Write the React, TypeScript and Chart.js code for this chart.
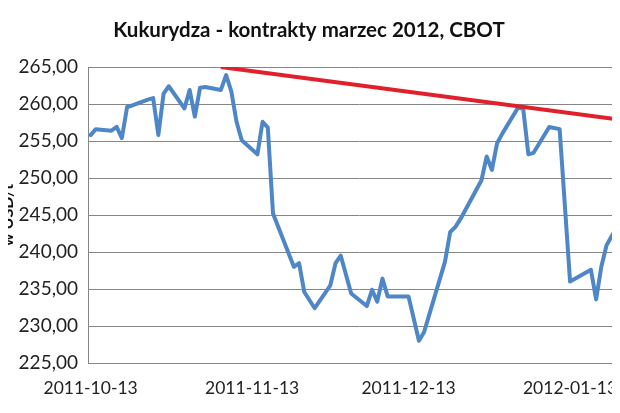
import React, { useEffect, useRef } from "react";
import { Chart, registerables } from "chart.js";

Chart.register(...registerables);

const TITLE = "Kukurydza - kontrakty marzec 2012, CBOT";
const Y_AXIS_TITLE = "w USD/t";
const START_DATE = "2011-10-13";
const X_TICK_LABELS = ["2011-10-13", "2011-11-13", "2011-12-13", "2012-01-13"];

// days since 2011-10-13
const PRICE_DAYS = [
  0, 1, 4, 5, 6, 7, 8, 11, 12, 13, 14, 15, 18, 19, 20, 21, 22, 25, 26, 27, 28, 29,
  32, 33, 34, 35, 39, 40, 41, 43, 46, 47, 48, 50, 53, 54, 55, 56, 57, 60, 61, 63, 64,
  68, 69, 70, 71, 75, 76, 77, 78, 79, 82, 83, 84, 85, 88, 90, 92, 96, 97, 98, 99, 101, 102,
];
const PRICES = [
  255.8, 256.6, 256.4, 256.9, 255.4, 259.6, 259.8, 260.6, 260.8, 255.8, 261.4, 262.4,
  259.4, 261.9, 258.3, 262.2, 262.3, 261.9, 263.9, 261.7, 257.6, 255.1,
  253.2, 257.6, 256.8, 245.2, 238.0, 238.5, 234.6, 232.4, 235.5, 238.5, 239.5, 234.4,
  232.7, 234.9, 233.3, 236.4, 234.0, 234.0, 234.0, 228.0, 229.2,
  238.7, 242.7, 243.4, 244.5, 249.7, 252.9, 251.1, 254.7, 256.0, 259.5, 259.4, 253.2,
  253.4, 256.9, 256.6, 236.0, 237.6, 233.6, 238.0, 240.9, 243.4, 244.2,
];
const TREND_DAYS = [25, 103.5];
const TREND_PRICES = [265.0, 257.7];

const Y_MIN = 225;
const Y_MAX = 265;
const Y_STEP = 5;
const X_MIN = -0.5;
const X_MAX = 103.5;

const DAY_MS = 86400000;
const dayOffset = (iso: string) =>
  Math.round((Date.parse(iso) - Date.parse(START_DATE)) / DAY_MS);
const X_TICK_DAYS = X_TICK_LABELS.map(dayOffset);

const OFFSET = 30; // canvas starts 30px left of the visible page
const CANVAS_W = 690;
const CANVAS_H = 413;

export default function App() {
  const ref = useRef<HTMLCanvasElement>(null);

  useEffect(() => {
    const canvas = ref.current;
    if (!canvas) return;

    const framePlugin = {
      id: "frame",
      beforeDraw(chart: any) {
        const { ctx, width, height } = chart;
        ctx.save();
        ctx.fillStyle = "#ffffff";
        ctx.fillRect(0, 0, width, height);
        ctx.strokeStyle = "#8c8c8c";
        ctx.lineWidth = 1;
        ctx.strokeRect(0.5, 2.5, width + 20, 408);
        ctx.restore();
      },
    };

    const titlePlugin = {
      id: "chartTitle",
      afterDraw(chart: any) {
        const { ctx } = chart;
        ctx.save();
        ctx.font = "bold 20.5px Lato";
        ctx.fillStyle = "#111111";
        ctx.textAlign = "center";
        ctx.textBaseline = "middle";
        ctx.fillText(TITLE, 309 + OFFSET, 30);
        ctx.restore();
      },
    };

    const chart = new Chart(canvas, {
      type: "line",
      data: {
        datasets: [
          {
            label: "trend",
            data: TREND_DAYS.map((d, i) => ({ x: d, y: TREND_PRICES[i] })),
            borderColor: "#E0202A",
            borderWidth: 4,
            pointRadius: 0,
            order: 0,
            borderCapStyle: "butt",
          },
          {
            label: "cena",
            data: PRICE_DAYS.map((d, i) => ({ x: d, y: PRICES[i] })),
            borderColor: "#4F86C8",
            borderWidth: 4,
            pointRadius: 0,
            tension: 0,
            borderJoinStyle: "round",
            borderCapStyle: "round",
            order: 1,
          },
        ],
      },
      options: {
        animation: false,
        responsive: false,
        devicePixelRatio: 1,
        layout: { padding: { left: 0, right: 30, top: 67, bottom: 0 } },
        plugins: {
          legend: { display: false },
          title: { display: false },
          tooltip: { enabled: false },
        },
        scales: {
          x: {
            type: "linear",
            min: X_MIN,
            max: X_MAX,
            afterBuildTicks: (scale: any) => {
              scale.ticks = X_TICK_DAYS.map((value) => ({ value }));
            },
            afterFit: (scale: any) => {
              scale.height = 50;
            },
            grid: { display: false },
            border: { display: true, color: "#868686", width: 1 },
            ticks: {
              autoSkip: false,
              maxRotation: 0,
              padding: 7,
              color: "#222222",
              font: { family: "Lato", size: 17.5 },
              callback: (v: any) => {
                const i = X_TICK_DAYS.indexOf(Number(v));
                return i >= 0 ? X_TICK_LABELS[i] : "";
              },
            },
          },
          y: {
            min: Y_MIN,
            max: Y_MAX,
            afterFit: (scale: any) => {
              scale.width = 118;
            },
            grid: { color: "#868686", lineWidth: 1, drawTicks: false },
            border: { display: true, color: "#868686", width: 1 },
            title: {
              display: true,
              text: Y_AXIS_TITLE,
              color: "#111111",
              font: { family: "Lato", size: 16, weight: "bold" },
              padding: { top: 28, bottom: 0 },
            },
            ticks: {
              stepSize: Y_STEP,
              padding: 10,
              color: "#222222",
              font: { family: "Lato", size: 19 },
              callback: (v: any) => Number(v).toFixed(2).replace(".", ","),
            },
          },
        },
      },
      plugins: [framePlugin, titlePlugin],
    });

    return () => chart.destroy();
  }, []);

  return (
    <div
      style={{
        position: "relative",
        width: 620,
        height: 413,
        margin: -8,
        overflow: "hidden",
        background: "#ffffff",
      }}
    >
      <canvas
        ref={ref}
        width={CANVAS_W}
        height={CANVAS_H}
        style={{ position: "absolute", left: -OFFSET, top: 0, width: CANVAS_W, height: CANVAS_H }}
      />
    </div>
  );
}
